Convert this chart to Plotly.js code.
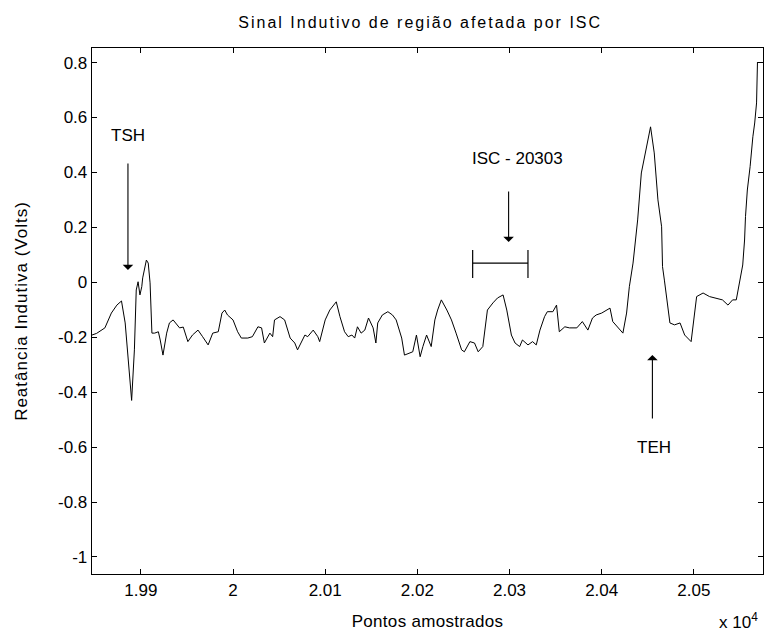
<!DOCTYPE html>
<html>
<head>
<meta charset="utf-8">
<script src="https://cdn.plot.ly/plotly-2.35.2.min.js"></script>
<style>
html,body{margin:0;padding:0;background:#fff;}
#chart{width:764px;height:635px;}
#chart .gtitle{letter-spacing:2px;}
#chart .ytitle{letter-spacing:1px;}
#chart .xtitle{letter-spacing:0.3px;}
</style>
</head>
<body>
<div id="chart"></div>
<script>
// Sample index (pontos amostrados)
const samples = [19847,19852,19861,19868,19874,19879,19883,19886,19890,19893,19895,19897,19899,19901,19902,19906,19908,19910,19912,19915,19919,19921,19924,19928,19931,19935,19939,19942,19946,19951,19956,19962,19967,19973,19978,19984,19988,19991,19994,20000,20005,20009,20016,20021,20027,20031,20034,20040,20043,20045,20051,20056,20062,20067,20070,20078,20081,20087,20092,20094,20100,20105,20112,20116,20121,20125,20129,20132,20135,20139,20143,20147,20152,20155,20157,20162,20168,20173,20177,20183,20186,20192,20195,20199,20203,20206,20210,20215,20219,20222,20226,20232,20237,20242,20248,20251,20257,20262,20266,20271,20276,20282,20287,20293,20297,20302,20306,20311,20314,20320,20325,20329,20333,20338,20341,20347,20351,20354,20360,20365,20373,20379,20385,20390,20394,20400,20405,20409,20412,20417,20423,20427,20430,20434,20439,20443,20448,20453,20457,20461,20465,20466,20468,20474,20479,20485,20490,20495,20497,20503,20510,20517,20524,20531,20537,20542,20546,20550,20553,20555,20556,20558,20561,20564,20566,20568,20569];
// Reatância indutiva (Volts)
const reactance = [-0.192,-0.186,-0.166,-0.112,-0.083,-0.068,-0.148,-0.271,-0.43,-0.246,-0.028,0.002,-0.046,-0.016,0.016,0.081,0.070,-0.002,-0.185,-0.185,-0.180,-0.210,-0.265,-0.185,-0.148,-0.137,-0.155,-0.166,-0.163,-0.216,-0.192,-0.174,-0.198,-0.228,-0.185,-0.180,-0.112,-0.101,-0.119,-0.137,-0.180,-0.203,-0.203,-0.198,-0.162,-0.166,-0.221,-0.185,-0.198,-0.137,-0.125,-0.137,-0.203,-0.221,-0.246,-0.192,-0.198,-0.174,-0.198,-0.216,-0.137,-0.101,-0.071,-0.125,-0.180,-0.198,-0.192,-0.203,-0.162,-0.185,-0.174,-0.130,-0.166,-0.221,-0.148,-0.119,-0.107,-0.119,-0.137,-0.203,-0.265,-0.257,-0.253,-0.192,-0.271,-0.234,-0.192,-0.234,-0.137,-0.101,-0.064,-0.101,-0.137,-0.185,-0.246,-0.253,-0.216,-0.221,-0.253,-0.234,-0.101,-0.075,-0.057,-0.046,-0.101,-0.192,-0.221,-0.234,-0.210,-0.228,-0.216,-0.228,-0.174,-0.125,-0.107,-0.107,-0.083,-0.180,-0.162,-0.166,-0.166,-0.143,-0.174,-0.130,-0.119,-0.112,-0.101,-0.094,-0.143,-0.162,-0.185,-0.112,-0.016,0.070,0.227,0.398,0.482,0.566,0.471,0.300,0.202,0.057,0.008,-0.148,-0.155,-0.148,-0.192,-0.210,-0.216,-0.052,-0.039,-0.052,-0.057,-0.064,-0.083,-0.064,-0.064,0.016,0.063,0.154,0.239,0.336,0.421,0.530,0.580,0.653,0.802];

const xTickVals = [19900,20000,20100,20200,20300,20400,20500];
const xTickText = ["1.99","2","2.01","2.02","2.03","2.04","2.05"];
const yTickVals = [-1,-0.8,-0.6,-0.4,-0.2,0,0.2,0.4,0.6,0.8];
const yTickText = ["-1","-0.8","-0.6","-0.4","-0.2","0","0.2","0.4","0.6","0.8"];

const font = {family: "Liberation Sans, Arial, sans-serif", size: 17, color: "#000"};

const trace = {
  x: samples, y: reactance, type: "scatter", mode: "lines",
  line: {color: "#000", width: 1}, hoverinfo: "skip"
};

const axisCommon = {
  showgrid: false, zeroline: false, showline: true, linecolor: "#000", linewidth: 1.3,
  mirror: "ticks", ticks: "inside", ticklen: 5, tickcolor: "#000", tickwidth: 1,
  tickfont: font
};

const arrowCommon = {showarrow: true, arrowhead: 1, arrowsize: 1.6, arrowwidth: 1.1, arrowcolor: "#000",
  axref: "x", ayref: "y", text: ""};

const layout = {
  width: 764, height: 635,
  margin: {l: 92, r: 1, t: 48, b: 61},
  paper_bgcolor: "#fff", plot_bgcolor: "#fff",
  showlegend: false,
  font: font,
  title: {text: "Sinal Indutivo de região afetada por ISC", font: {family: font.family, size: 16, color: "#000"},
          x: 0.55, xanchor: "center", y: 1 - 22/635, yanchor: "middle", yref: "container"},
  xaxis: Object.assign({}, axisCommon, {range: [19847, 20575], tickmode: "array", tickvals: xTickVals, ticktext: xTickText,
    title: {text: "Pontos amostrados", font: font, standoff: 16}}),
  yaxis: Object.assign({}, axisCommon, {range: [-1.062, 0.853], tickmode: "array", tickvals: yTickVals, ticktext: yTickText,
    title: {text: "Reatância Indutiva (Volts)", font: font, standoff: 26}}),
  shapes: [
    {type: "line", xref: "x", yref: "y", x0: 20260, x1: 20320, y0: 0.070, y1: 0.070, line: {color: "#000", width: 1.2}},
    {type: "line", xref: "x", yref: "y", x0: 20260, x1: 20260, y0: 0.016, y1: 0.118, line: {color: "#000", width: 1.2}},
    {type: "line", xref: "x", yref: "y", x0: 20320, x1: 20320, y0: 0.016, y1: 0.118, line: {color: "#000", width: 1.2}}
  ],
  annotations: [
    {x: 19886, y: 0.536, xref: "x", yref: "y", text: "TSH", showarrow: false, font: font},
    Object.assign({}, arrowCommon, {x: 19886, y: 0.045, ax: 19886, ay: 0.438}),
    {x: 20309, y: 0.452, xref: "x", yref: "y", text: "ISC - 20303", showarrow: false, font: font},
    Object.assign({}, arrowCommon, {x: 20299, y: 0.147, ax: 20299, ay: 0.336}),
    {x: 20457, y: -0.603, xref: "x", yref: "y", text: "TEH", showarrow: false, font: font},
    Object.assign({}, arrowCommon, {x: 20455, y: -0.265, ax: 20455, ay: -0.501}),
    {x: (738 - 92) / 671, y: -(621 - 574) / 526, xref: "paper", yref: "paper", text: "x 10<sup>4</sup>", showarrow: false, font: font,
     xanchor: "center", yanchor: "middle"}
  ]
};

Plotly.newPlot("chart", [trace], layout, {displayModeBar: false, staticPlot: true});
</script>
</body>
</html>
